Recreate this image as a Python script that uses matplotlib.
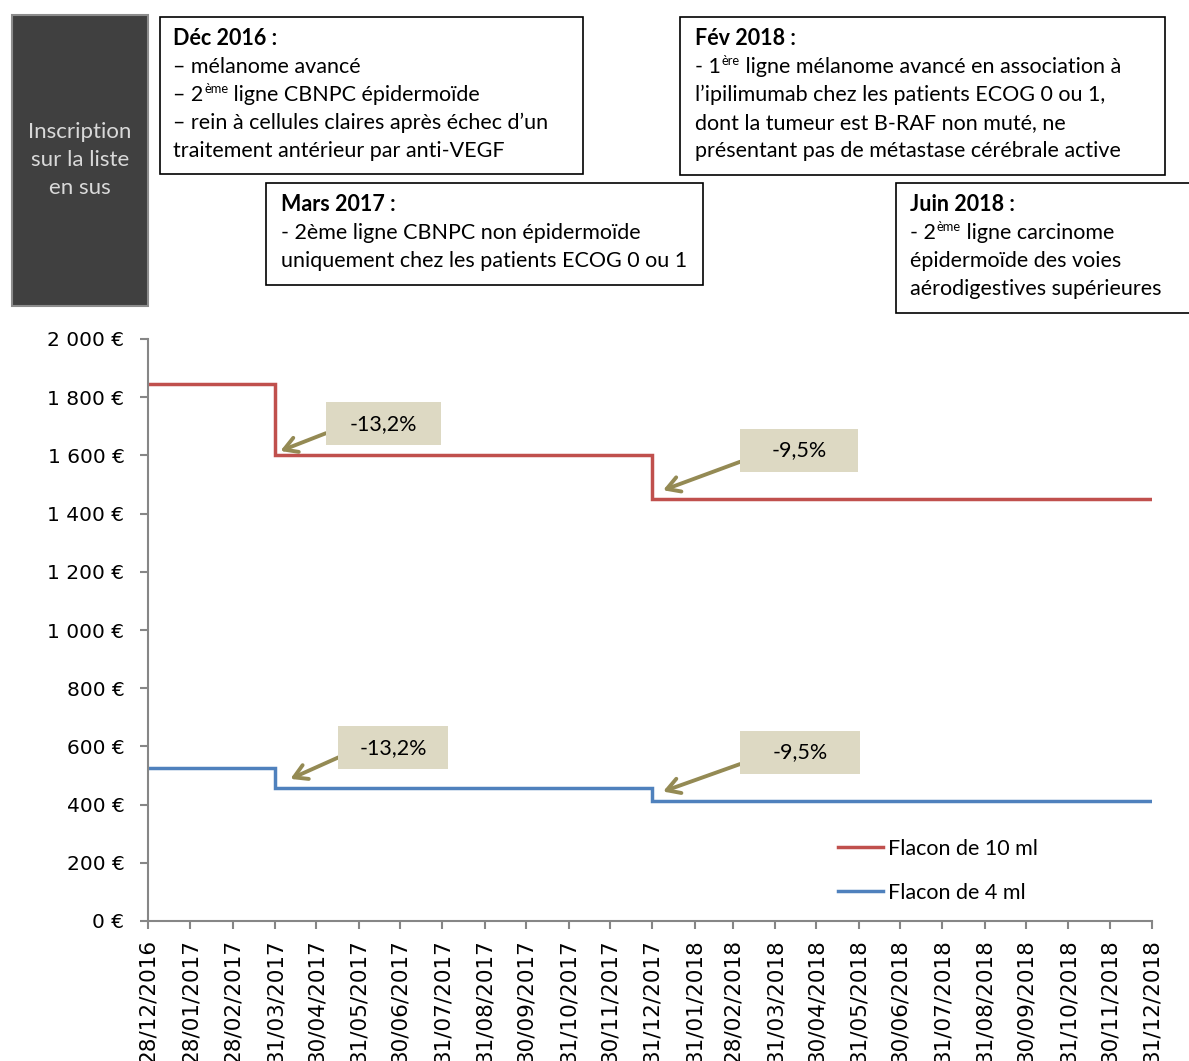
import datetime as dt
import matplotlib
matplotlib.use("Agg")
import matplotlib.pyplot as plt
import matplotlib.dates as mdates
import matplotlib.transforms as mtransforms
from matplotlib.patches import Rectangle
from matplotlib.path import Path
from matplotlib.ticker import FuncFormatter

# ---------------------------------------------------------------- data
change_dates = ["28/12/2016", "31/03/2017", "31/12/2017", "31/12/2018"]
price_10ml = [1845.0, 1601.5, 1449.4, 1449.4]
price_4ml = [527.0, 457.4, 414.0, 414.0]
series_labels = ["Flacon de 10 ml", "Flacon de 4 ml"]
series_colors = ["#c0504d", "#4f81bd"]

tick_dates = [
    "28/12/2016", "28/01/2017", "28/02/2017", "31/03/2017", "30/04/2017",
    "31/05/2017", "30/06/2017", "31/07/2017", "31/08/2017", "30/09/2017",
    "31/10/2017", "30/11/2017", "31/12/2017", "31/01/2018", "28/02/2018",
    "31/03/2018", "30/04/2018", "31/05/2018", "30/06/2018", "31/07/2018",
    "31/08/2018", "30/09/2018", "31/10/2018", "30/11/2018", "31/12/2018",
]
y_ticks = [0, 200, 400, 600, 800, 1000, 1200, 1400, 1600, 1800, 2000]

side_label = ["Inscription", "sur la liste", "en sus"]

# each line: list of (text, style) with style in {"b", "n", "sup"}
box_dec2016 = [
    [("Déc 2016 :", "b")],
    [("– mélanome avancé", "n")],
    [("– 2", "n"), ("ème", "sup"), (" ligne CBNPC épidermoïde", "n")],
    [("– rein à cellules claires après échec d’un", "n")],
    [("traitement antérieur par anti-VEGF", "n")],
]
box_mar2017 = [
    [("Mars 2017 :", "b")],
    [("- 2ème ligne CBNPC non épidermoïde", "n")],
    [("uniquement chez les patients ECOG 0 ou 1", "n")],
]
box_fev2018 = [
    [("Fév 2018 :", "b")],
    [("- 1", "n"), ("ère", "sup"), (" ligne mélanome avancé en association à", "n")],
    [("l’ipilimumab chez les patients ECOG 0 ou 1,", "n")],
    [("dont la tumeur est B-RAF non muté, ne", "n")],
    [("présentant pas de métastase cérébrale active", "n")],
]
box_juin2018 = [
    [("Juin 2018 :", "b")],
    [("- 2", "n"), ("ème", "sup"), (" ligne carcinome", "n")],
    [("épidermoïde des voies", "n")],
    [("aérodigestives supérieures", "n")],
]

# ---------------------------------------------------------------- setup
W, H, DPI = 1189, 1061, 100
TEXT_FONT = ["Lato", "DejaVu Sans"]
TICK_FONT = ["DejaVu Sans"]
GREY = "#868686"
BOX_SIZE = 15.5

to_date = lambda s: dt.datetime.strptime(s, "%d/%m/%Y")
x_steps = [to_date(s) for s in change_dates]
x_ticks = [to_date(s) for s in tick_dates]

fig = plt.figure(figsize=(W / DPI, H / DPI), dpi=DPI)
fig.patch.set_facecolor("white")
# pixel coordinates with origin at the top-left corner of the figure
px = mtransforms.Affine2D().scale(1 / W, -1 / H).translate(0, 1) + fig.transFigure

ax = fig.add_axes([148 / W, (H - 921) / H, (1152 - 148) / W, (921 - 339) / H])

ax.step(x_steps, price_10ml, where="post", color=series_colors[0], lw=2.5,
        label=series_labels[0], solid_joinstyle="miter")
ax.step(x_steps, price_4ml, where="post", color=series_colors[1], lw=2.5,
        label=series_labels[1], solid_joinstyle="miter")

ax.set_xlim(x_ticks[0], x_ticks[-1])
ax.set_ylim(y_ticks[0], y_ticks[-1])
ax.set_yticks(y_ticks)
ax.yaxis.set_major_formatter(
    FuncFormatter(lambda v, p: f"{int(v):,}".replace(",", " ") + " €"))
ax.set_xticks(x_ticks)
ax.set_xticklabels(tick_dates, rotation=90, fontsize=15.5, family=TICK_FONT)
for lab in ax.get_yticklabels():
    lab.set_fontsize(14.5)
    lab.set_family(TICK_FONT)

for side in ("top", "right"):
    ax.spines[side].set_visible(False)
for side in ("left", "bottom"):
    ax.spines[side].set_color(GREY)
    ax.spines[side].set_linewidth(1.5)
ax.tick_params(axis="both", colors=GREY, labelcolor="black", width=1.5, length=6)
ax.tick_params(axis="y", pad=11)
ax.tick_params(axis="x", pad=7)
ax.patch.set_alpha(0)


# ---------------------------------------------------------------- variation labels
class FixedBox:
    """Rectangle of constant pixel size centred on the text."""

    def __init__(self, w, h):
        self.w, self.h = w, h

    def __call__(self, x0, y0, width, height, mutation_size):
        cx, cy = x0 + width / 2, y0 + height / 2
        hw, hh = self.w / 2, self.h / 2
        return Path([(cx - hw, cy - hh), (cx + hw, cy - hh), (cx + hw, cy + hh),
                     (cx - hw, cy + hh), (cx - hw, cy - hh)], closed=True)


def pct_label(old, new):
    return f"{(new - old) / old * 100:.1f}%".replace(".", ",")


def variation(i, values, tip_px, box_px, box_w):
    """Annotate the drop between step i-1 and step i."""
    tip = mtransforms.offset_copy(ax.transData, fig=fig, x=tip_px[0],
                                  y=tip_px[1], units="dots")
    ax.annotate(
        pct_label(values[i - 1], values[i]),
        xy=(mdates.date2num(x_steps[i]), values[i]), xycoords=tip,
        xytext=(box_px[0] * 0.72, box_px[1] * 0.72), textcoords="offset points",
        ha="center", va="center", fontsize=15.5, family=TEXT_FONT,
        bbox=dict(boxstyle=FixedBox(box_w, 43), fc="#ddd9c3", ec="none"),
        arrowprops=dict(arrowstyle="->,head_length=0.6,head_width=0.35",
                        color="#948a54", lw=2.8, relpos=(0, 0.5),
                        shrinkA=0, shrinkB=0),
        annotation_clip=False,
    )


variation(1, price_10ml, (5, 4), (103, 27), 115)
variation(2, price_10ml, (11, 9), (136, 40), 118)
variation(1, price_4ml, (15, 9), (103, 31), 110)
variation(2, price_4ml, (11, 9), (137, 39), 120)

# ---------------------------------------------------------------- legend
fig.legend(loc="upper left", bbox_to_anchor=(838, 839), bbox_transform=px,
           frameon=False, prop={"family": TEXT_FONT, "size": 15.5},
           handlelength=2.1, handletextpad=0.22, labelspacing=1.1,
           borderpad=0, borderaxespad=0)

# ---------------------------------------------------------------- header boxes
renderer = fig.canvas.get_renderer()


def rich_line(x, y, parts, size=BOX_SIZE):
    cur = x
    for txt, style in parts:
        kw = dict(transform=px, family=TEXT_FONT, color="black", va="baseline",
                  ha="left")
        if style == "sup":
            t = fig.text(cur + 1, y - 8, txt, fontsize=size * 0.6, **kw)
        elif style == "b":
            t = fig.text(cur, y, txt, fontsize=size, fontweight="bold", **kw)
        else:
            t = fig.text(cur, y, txt, fontsize=size, **kw)
        cur += t.get_window_extent(renderer).width + (1 if style == "sup" else 0)


def text_box(x0, y0, x1, y1, tx, first_baseline, lines, step=28):
    fig.patches.append(Rectangle((x0, y0), x1 - x0, y1 - y0, transform=px,
                                 fc="white", ec="black", lw=1.2))
    for k, parts in enumerate(lines):
        rich_line(tx, first_baseline + k * step, parts)


# dark side label
fig.patches.append(Rectangle((12, 15), 136, 291, transform=px,
                             fc="#404040", ec="#8c8c8c", lw=1.5))
for k, s in enumerate(side_label):
    fig.text(80, 132 + 28 * k, s, transform=px, ha="center", va="center",
             fontsize=16, family=TEXT_FONT, color="#d9d9d9")

text_box(160, 17, 583, 174, 173, 45, box_dec2016)
text_box(266, 183, 703, 285, 281, 211, box_mar2017)
text_box(680, 17, 1165, 175, 695, 45, box_fev2018)
text_box(896, 183, 1200, 313, 910, 211, box_juin2018)

fig.savefig("out.png", dpi=DPI, facecolor="white")
